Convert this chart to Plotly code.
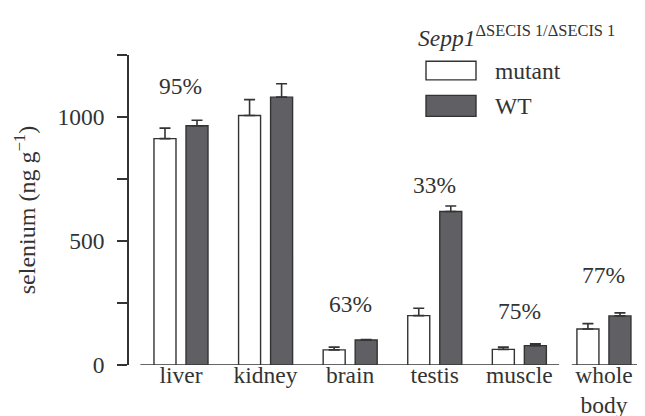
import plotly.graph_objects as go

categories = ["liver", "kidney", "brain", "testis", "muscle", "whole<br>body"]
mutant_vals = [913, 1006, 61, 199, 63, 145]
mutant_err = [42, 64, 11, 30, 9, 22]
wt_vals = [965, 1080, 101, 619, 78, 198]
wt_err = [22, 54, 2, 22, 7, 12]
pct_labels = ["95%", "", "63%", "33%", "75%", "77%"]
pct_y = [1125, None, 245, 727, 216, 363]
y_ticks = [0, 500, 1000]

FONT = "Liberation Serif"
FS = 23.5
INK = "#333333"
WT_FILL = "#606064"

fig = go.Figure()
fig.add_trace(go.Bar(
    x=categories, y=mutant_vals, name="mutant",
    marker=dict(color="white", line=dict(color=INK, width=1.4)),
    error_y=dict(type="data", symmetric=False, array=mutant_err,
                 arrayminus=[0] * len(mutant_err), color=INK, thickness=1.6, width=5.5),
))
fig.add_trace(go.Bar(
    x=categories, y=wt_vals, name="WT",
    marker=dict(color=WT_FILL, line=dict(color=INK, width=1.4)),
    error_y=dict(type="data", symmetric=False, array=wt_err,
                 arrayminus=[0] * len(wt_err), color=INK, thickness=1.6, width=5.5),
))

annotations = []
for c, t, yv in zip(categories, pct_labels, pct_y):
    if t:
        annotations.append(dict(x=c, y=yv, xref="x", yref="y", text=t, showarrow=False,
                                font=dict(family=FONT, size=FS, color=INK)))

# plot area geometry in pixels
W0, W1 = 120.0, 634.0
H0, H1 = 47.2, 356.7
def px(xp):
    return (xp - W0) / (W1 - W0)
def py(yp):
    return (H1 - yp) / (H1 - H0)

# legend (manual, large swatches)
annotations.append(dict(x=px(408), y=py(28), xref="paper", yref="paper", xanchor="left", yanchor="middle",
                        text="<i>Sepp1</i><sup>ΔSECIS 1/ΔSECIS 1</sup>", showarrow=False,
                        font=dict(family=FONT, size=FS, color=INK)))
annotations.append(dict(x=px(485), y=py(63), xref="paper", yref="paper", xanchor="left", yanchor="middle",
                        text="mutant", showarrow=False, font=dict(family=FONT, size=FS, color=INK)))
annotations.append(dict(x=px(485), y=py(98), xref="paper", yref="paper", xanchor="left", yanchor="middle",
                        text="WT", showarrow=False, font=dict(family=FONT, size=FS, color=INK)))

shapes = [
    dict(type="rect", xref="paper", yref="paper", x0=px(418), x1=px(468), y0=py(72), y1=py(53.5),
         fillcolor="white", line=dict(color=INK, width=1.4)),
    dict(type="rect", xref="paper", yref="paper", x0=px(418), x1=px(468), y0=py(108.5), y1=py(87.5),
         fillcolor=WT_FILL, line=dict(color=INK, width=1.4)),
    # broken baseline
    dict(type="line", xref="x", yref="y", x0=-0.48, x1=4.47, y0=0, y1=0, layer="below",
         line=dict(color=INK, width=1.6)),
    dict(type="line", xref="x", yref="y", x0=4.62, x1=5.41, y0=0, y1=0, layer="below",
         line=dict(color=INK, width=1.6)),
]

fig.update_layout(
    width=645, height=416,
    margin=dict(l=W0, r=645 - W1, t=H0, b=416 - H1, pad=0, autoexpand=False),
    paper_bgcolor="white", plot_bgcolor="white",
    barmode="group", bargap=0.243, bargroupgap=0.3125,
    showlegend=False,
    font=dict(family=FONT, size=FS, color=INK),
    annotations=annotations, shapes=shapes,
    xaxis=dict(domain=[(130.7 - W0) / (W1 - W0), 1], range=[-0.5, 5.45], automargin=False,
               showline=False, showgrid=False, zeroline=False, ticks="",
               tickfont=dict(family=FONT, size=FS, color=INK), ticklabelstandoff=-7),
    yaxis=dict(anchor="free", position=0, range=[0, 1250], automargin=False,
               tickvals=y_ticks,
               showline=True, linecolor=INK, linewidth=1.6,
               ticks="outside", ticklen=10, tickwidth=1.6, tickcolor=INK,
               minor=dict(tick0=0, dtick=250, ticks="outside", ticklen=10, tickwidth=1.6,
                          tickcolor=INK, showgrid=False),
               showgrid=False, zeroline=False, ticklabelstandoff=8,
               tickfont=dict(family=FONT, size=FS, color=INK),
               title=dict(text="selenium (ng g<sup>−1</sup>)", standoff=14,
                          font=dict(family=FONT, size=24, color=INK))),
)

fig.write_html("out.html")
